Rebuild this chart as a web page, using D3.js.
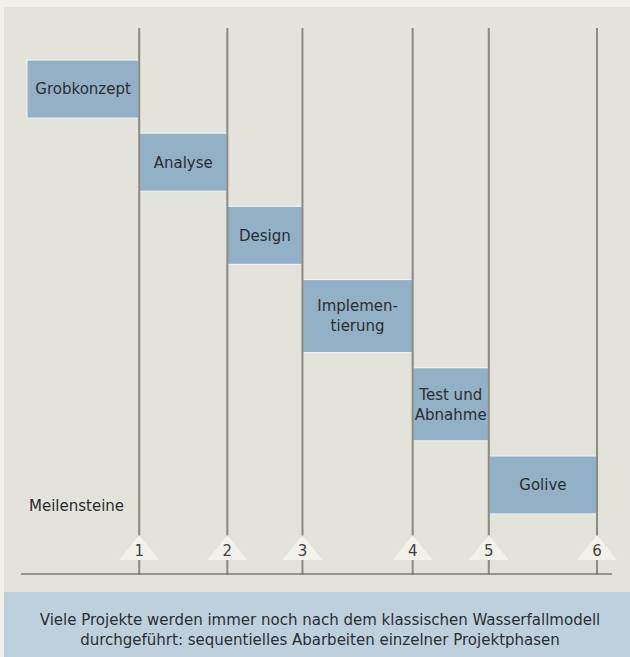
<!DOCTYPE html>
<html><head><meta charset="utf-8">
<script src="https://cdn.jsdelivr.net/npm/d3@7"></script>
<style>html,body{margin:0;padding:0;background:#f1f0ea;}svg{display:block;}</style>
</head><body>
<svg id="chart" width="630" height="657"></svg>
<script>
// ---- data ----
const phases = ["Grobkonzept", "Analyse", "Design", "Implemen-\ntierung", "Test und\nAbnahme", "Golive"];
const durations = [11.2, 8.8, 7.5, 11.0, 7.6, 10.8];   // relative phase lengths
const milestones = ["1", "2", "3", "4", "5", "6"];
const milestoneLabel = "Meilensteine";
const caption = ["Viele Projekte werden immer noch nach dem klassischen Wasserfallmodell",
                 "durchgeführt: sequentielles Abarbeiten einzelner Projektphasen"];

// ---- derived ----
const ends = d3.cumsum(durations);
const starts = [0, ...Array.from(ends).slice(0, -1)];
const rows = phases.map((p, i) => ({label: p, lines: p.split("\n"), start: starts[i], end: ends[i], idx: i}));
let acc = 0;
rows.forEach(r => { r.h = r.lines.length > 1 ? 73 : 58; r.top = acc; acc += r.h + 15; });

const W = 630, H = 657;
const svg = d3.select("#chart");
const font = "DejaVu Sans, Verdana, sans-serif";
const ink = "#2a2e32";

// panel
svg.append("rect").attr("x", 4).attr("y", 7).attr("width", W - 4).attr("height", H - 7).attr("fill", "#e3e2db");
// caption box
svg.append("rect").attr("x", 4).attr("y", 592).attr("width", W - 4).attr("height", H - 592).attr("fill", "#bfd0dd");

const x = d3.scaleLinear().domain([0, d3.max(ends)]).range([27, 597]);
const y = d3.scaleLinear().domain([0, acc - 15]).range([60, 514]);

// bars
const g = svg.append("g");
g.selectAll("rect.bar").data(rows).join("rect")
  .attr("class", "bar")
  .attr("x", d => x(d.start)).attr("width", d => x(d.end) - x(d.start))
  .attr("y", d => y(d.top)).attr("height", d => y(d.top + d.h) - y(d.top))
  .attr("fill", "#93b1c6").attr("stroke", "#eef0ec").attr("stroke-width", 1.2);

// bar labels
rows.forEach(d => {
  const cx = (x(d.start) + x(d.end)) / 2;
  const cy = (y(d.top) + y(d.top + d.h)) / 2;
  const n = d.lines.length, lh = 20;
  d.lines.forEach((t, k) => {
    g.append("text").attr("x", cx).attr("y", cy + (k - (n - 1) / 2) * lh)
      .attr("dy", "0.36em").attr("text-anchor", "middle")
      .attr("font-family", font).attr("font-size", 15).attr("fill", ink)
      .text(t);
  });
});

// milestone lines
const msX = Array.from(ends).map(v => x(v));
const baseY = 574;
svg.append("g").selectAll("line").data(msX).join("line")
  .attr("x1", d => d).attr("x2", d => d).attr("y1", 28).attr("y2", baseY + 1)
  .attr("stroke", "#8b8a83").attr("stroke-width", 2);

// baseline
svg.append("line").attr("x1", 21).attr("x2", 612).attr("y1", baseY).attr("y2", baseY)
  .attr("stroke", "#7c7a72").attr("stroke-width", 1.5);

// triangles + numbers
const tg = svg.append("g");
milestones.forEach((m, i) => {
  const cx = msX[i];
  tg.append("path").attr("d", `M${cx},535 L${cx + 20},560 L${cx - 20},560 Z`).attr("fill", "#f2f1ec");
  tg.append("text").attr("x", cx).attr("y", 551).attr("dy", "0.36em").attr("text-anchor", "middle")
    .attr("font-family", font).attr("font-size", 15).attr("fill", "#404346").text(m);
});

// Meilensteine label
svg.append("text").attr("x", 29).attr("y", 506).attr("dy", "0.36em")
  .attr("font-family", font).attr("font-size", 15).attr("fill", ink).text(milestoneLabel);

// caption
caption.forEach((t, k) => {
  svg.append("text").attr("x", 320).attr("y", 620 + k * 19.5).attr("dy", "0.36em").attr("text-anchor", "middle")
    .attr("font-family", font).attr("font-size", 15).attr("fill", ink).text(t);
});
</script>
</body></html>
